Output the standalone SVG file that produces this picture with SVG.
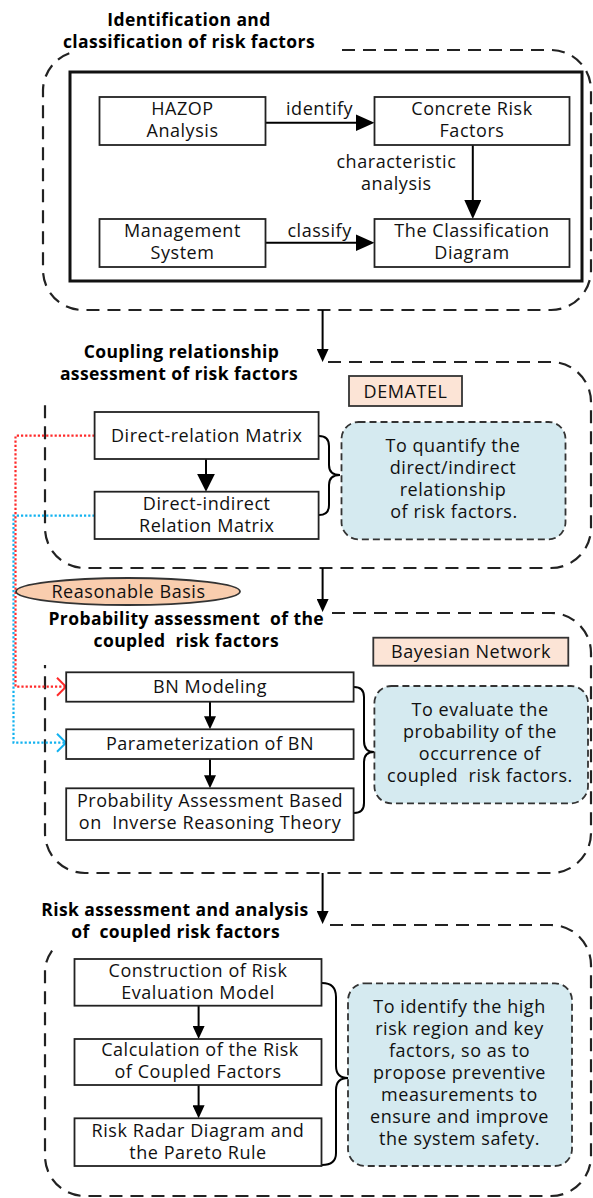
<svg xmlns="http://www.w3.org/2000/svg" width="593" height="1198" viewBox="0 0 593 1198">
<style>
.t{font-family:"Open Sans","Liberation Sans",sans-serif;font-size:18px;letter-spacing:0.55px;fill:#111;text-anchor:middle}
.h{font-family:"Open Sans","Liberation Sans",sans-serif;font-size:17.5px;letter-spacing:0.4px;font-weight:700;fill:#000;text-anchor:middle}
.box{fill:#fff;stroke:#222;stroke-width:1.8}
.sec{fill:none;stroke:#222;stroke-width:2.2;stroke-dasharray:13 8}
.note{fill:#D5EAF0;stroke:#333;stroke-width:1.8;stroke-dasharray:7 4}
.tag{fill:#FCE4D6;stroke:#333;stroke-width:1.8}
.ln{stroke:#000;stroke-width:2;fill:none}
.brace{stroke:#000;stroke-width:2;fill:none}
.red{stroke:#FF2A2A;stroke-width:2.2;stroke-dasharray:2.2 2;fill:none}
.blue{stroke:#12B2F0;stroke-width:2.2;stroke-dasharray:2.2 2;fill:none}
</style>
<defs>
<marker id="ahL" markerUnits="userSpaceOnUse" markerWidth="19" markerHeight="17" refX="15" refY="8.5" orient="auto"><path d="M0,0 L19,8.5 L0,17 z" fill="#000"/></marker>
<marker id="ahM" markerUnits="userSpaceOnUse" markerWidth="18" markerHeight="18" refX="14" refY="9" orient="auto"><path d="M0,0 L18,9 L0,18 z" fill="#000"/></marker>
<marker id="ahS" markerUnits="userSpaceOnUse" markerWidth="13" markerHeight="12" refX="9" refY="6" orient="auto"><path d="M0,0 L13,6 L0,12 z" fill="#000"/></marker>
<marker id="chR" markerUnits="userSpaceOnUse" markerWidth="12" markerHeight="20" refX="10" refY="10" orient="auto"><path d="M1,1 L10,10 L1,19" fill="none" stroke="#FF2A2A" stroke-width="2"/></marker>
<marker id="chB" markerUnits="userSpaceOnUse" markerWidth="12" markerHeight="20" refX="10" refY="10" orient="auto"><path d="M1,1 L10,10 L1,19" fill="none" stroke="#12B2F0" stroke-width="2"/></marker>
</defs>

<!-- Section frames -->
<g id="section1">
<path class="sec" d="M342 50 H551 A40 40 0 0 1 591 90 V270 A40 40 0 0 1 551 310 H83 A40 40 0 0 1 43 270 V90 A40 40 0 0 1 70 53"/>
<text class="h" x="189" y="26">Identification and</text>
<text class="h" x="189" y="48">classification of risk factors</text>
<rect x="70" y="72" width="512" height="209" fill="none" stroke="#111" stroke-width="3"/>
</g>
<g id="section2">
<path class="sec" d="M328 362 H551 A40 40 0 0 1 591 402 V528 A40 40 0 0 1 551 568 H85 A40 40 0 0 1 45 528 V399"/>
<text class="h" x="181.5" y="358">Coupling relationship</text>
<text class="h" x="179" y="380">assessment of risk factors</text>
</g>
<g id="section3">
<path class="sec" d="M332 613 H551 A40 40 0 0 1 591 653 V833 A40 40 0 0 1 551 873 H85 A40 40 0 0 1 45 833 V665"/>
<text class="h" x="186.3" y="625" xml:space="preserve">Probability assessment  of the</text>
<text class="h" x="186.3" y="647" xml:space="preserve">coupled  risk factors</text>
</g>
<g id="section4">
<path class="sec" d="M330 925 H551 A40 40 0 0 1 591 965 V1156 A40 40 0 0 1 551 1196 H85 A40 40 0 0 1 45 1156 V968 A40 40 0 0 1 56 946"/>
<text class="h" x="175" y="916.3">Risk assessment and analysis</text>
<text class="h" x="175.6" y="938.3" xml:space="preserve">of  coupled risk factors</text>
</g>

<!-- Connectors -->
<g id="connectors">
<line class="ln" x1="265.5" y1="122.7" x2="370.5" y2="122.7" marker-end="url(#ahL)"/>
<line class="ln" x1="265.5" y1="242.7" x2="370.5" y2="242.7" marker-end="url(#ahL)"/>
<line class="ln" x1="472.8" y1="145" x2="472.8" y2="215" marker-end="url(#ahL)"/>
<line class="ln" x1="322.6" y1="310" x2="322.6" y2="358" marker-end="url(#ahS)"/>
<line class="ln" x1="322.6" y1="568" x2="322.6" y2="608" marker-end="url(#ahS)"/>
<line class="ln" x1="322.6" y1="873" x2="322.6" y2="920" marker-end="url(#ahS)"/>
<line class="ln" x1="206" y1="459" x2="206" y2="487.7" marker-end="url(#ahM)"/>
<line class="ln" x1="210" y1="701.7" x2="210" y2="725.3" marker-end="url(#ahS)"/>
<line class="ln" x1="210" y1="759" x2="210" y2="784.3" marker-end="url(#ahS)"/>
<line class="ln" x1="198.6" y1="1005.7" x2="198.6" y2="1035" marker-end="url(#ahS)"/>
<line class="ln" x1="198.6" y1="1085" x2="198.6" y2="1114.3" marker-end="url(#ahS)"/>
<path class="brace" d="M319 436 Q329 436 329 446 V465 Q329 475 340 475 Q329 475 329 485 V505 Q329 515 319 515"/>
<path class="brace" d="M354 687 Q364 687 364 697 V741 Q364 752 374 752 Q364 752 364 762 V803 Q364 813 354 813"/>
<path class="brace" d="M322 983 Q336 983 336 997 V1066 Q336 1078 348 1078 Q336 1078 336 1090 V1153 Q336 1165 322 1165"/>
<path class="blue" d="M94.6 515.7 H13.5 V742.7 H66" marker-end="url(#chB)"/>
<path class="red" d="M94.6 435.7 H15.5 V686.7 H66" marker-end="url(#chR)"/>
<text class="t" x="319.6" y="115">identify</text>
<text class="t" x="319.6" y="236.7">classify</text>
<text class="t" x="396.4" y="168">characteristic</text>
<text class="t" x="396.4" y="190">analysis</text>
</g>

<!-- Section 1 nodes -->
<g id="hazop"><rect class="box" x="99.5" y="97" width="166" height="48"/><text class="t" x="182.5" y="115">HAZOP</text><text class="t" x="182.5" y="137">Analysis</text></g>
<g id="concrete"><rect class="box" x="374.5" y="97" width="195" height="48"/><text class="t" x="472" y="115">Concrete Risk</text><text class="t" x="472" y="137">Factors</text></g>
<g id="management"><rect class="box" x="99.5" y="219" width="166" height="48"/><text class="t" x="182.5" y="236.5">Management</text><text class="t" x="182.5" y="258.5">System</text></g>
<g id="classification"><rect class="box" x="374.5" y="219" width="195" height="48"/><text class="t" x="472" y="236.5">The Classification</text><text class="t" x="472" y="258.5">Diagram</text></g>

<!-- Section 2 nodes -->
<g id="dematel"><rect class="tag" x="349" y="376" width="113" height="30"/><text class="t" x="405.5" y="397.5">DEMATEL</text></g>
<g id="direct-relation"><rect class="box" x="94.6" y="412" width="224" height="47"/><text class="t" x="206.7" y="442">Direct-relation Matrix</text></g>
<g id="direct-indirect"><rect class="box" x="94.6" y="491.7" width="224" height="47.3"/><text class="t" x="206.7" y="510">Direct-indirect</text><text class="t" x="206.7" y="532">Relation Matrix</text></g>
<g id="note2"><rect class="note" x="341.5" y="422" width="224" height="117.3" rx="17"/>
<text class="t" x="453" y="451.5">To quantify the</text><text class="t" x="453" y="473.5">direct/indirect</text><text class="t" x="453" y="495.5">relationship</text><text class="t" x="454" y="517.5">of risk factors.</text></g>

<!-- Reasonable basis -->
<g id="reasonable-basis"><ellipse cx="128" cy="591.5" rx="112" ry="13.5" fill="#F9CDAE" stroke="#333" stroke-width="1.8"/><text class="t" x="128.5" y="597.5">Reasonable Basis</text></g>

<!-- Section 3 nodes -->
<g id="bayesian"><rect class="tag" x="373.3" y="637.7" width="195" height="28"/><text class="t" x="471" y="657.5">Bayesian Network</text></g>
<g id="bn-modeling"><rect class="box" x="66.2" y="672.3" width="287.4" height="29.4"/><text class="t" x="210" y="693">BN Modeling</text></g>
<g id="parameterization"><rect class="box" x="66.2" y="729.3" width="287.4" height="29.7"/><text class="t" x="210" y="749.5">Parameterization of BN</text></g>
<g id="probability"><rect class="box" x="66.2" y="788.3" width="287.4" height="51.7"/><text class="t" x="210" y="807">Probability Assessment Based</text><text class="t" x="210" y="829" xml:space="preserve">on  Inverse Reasoning Theory</text></g>
<g id="note3"><rect class="note" x="374.4" y="686" width="213.6" height="117.3" rx="17"/>
<text class="t" x="480" y="715.5">To evaluate the</text><text class="t" x="480" y="737.5">probability of the</text><text class="t" x="480" y="759.5">occurrence of</text><text class="t" x="480" y="781.5" xml:space="preserve">coupled  risk factors.</text></g>

<!-- Section 4 nodes -->
<g id="construction"><rect class="box" x="74.5" y="959" width="247" height="46.7"/><text class="t" x="198" y="976.5">Construction of Risk</text><text class="t" x="198" y="998.5">Evaluation Model</text></g>
<g id="calculation"><rect class="box" x="74.5" y="1039" width="247" height="46"/><text class="t" x="200" y="1055.5">Calculation of the Risk</text><text class="t" x="198" y="1077.5">of Coupled Factors</text></g>
<g id="radar"><rect class="box" x="74.5" y="1118.3" width="247" height="47.7"/><text class="t" x="198" y="1136.5">Risk Radar Diagram and</text><text class="t" x="198" y="1158.5">the Pareto Rule</text></g>
<g id="note4"><rect class="note" x="348" y="983.3" width="224" height="182.7" rx="17"/>
<text class="t" x="459.5" y="1013">To identify the high</text><text class="t" x="459.5" y="1035">risk region and key</text><text class="t" x="459.5" y="1057">factors, so as to</text><text class="t" x="459.5" y="1079">propose preventive</text><text class="t" x="459.5" y="1101">measurements to</text><text class="t" x="459.5" y="1123">ensure and improve</text><text class="t" x="459.5" y="1145">the system safety.</text></g>
</svg>
